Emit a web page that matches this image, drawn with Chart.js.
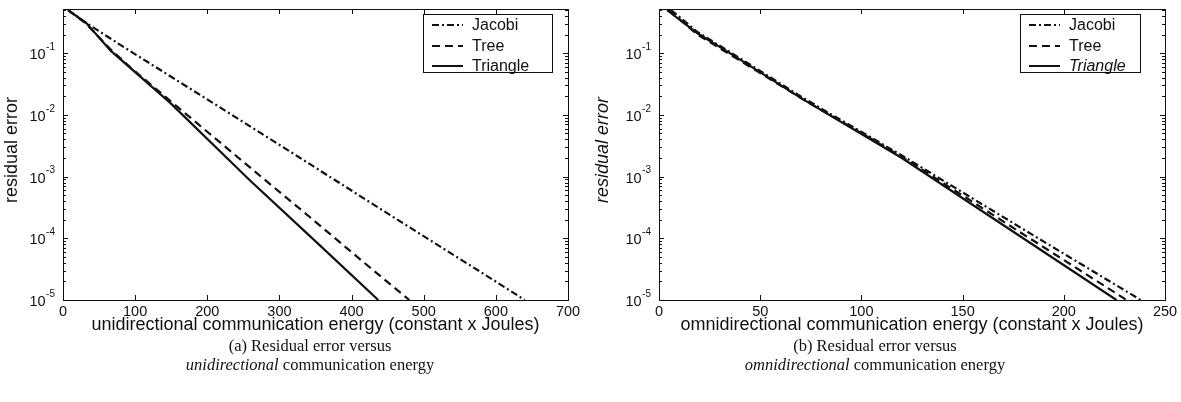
<!DOCTYPE html>
<html>
<head>
<meta charset="utf-8">
<script src="https://cdn.jsdelivr.net/npm/chart.js@4.4.1/dist/chart.umd.min.js"></script>
<style>
 body { margin: 0; background: #fff; }
 #wrap { position: relative; width: 1181px; height: 402px; background: #fff; overflow: hidden; }
 .panel { position: absolute; top: 0; height: 337px; }
 .caption { position: absolute; top: 336px; width: 500px; text-align: center;
  font-family: "Liberation Serif", "DejaVu Serif", serif; font-size: 16.5px; line-height: 19px; color: #111; }
</style>
</head>
<body>
<div id="wrap">
 <div class="panel" style="left:0;width:590px"><canvas id="uniChart" width="590" height="337"></canvas></div>
 <div class="panel" style="left:590px;width:591px"><canvas id="omniChart" width="591" height="337"></canvas></div>
 <div class="caption" style="left:60px">(a) Residual error versus<br><i>unidirectional</i> communication energy</div>
 <div class="caption" style="left:625px">(b) Residual error versus<br><i>omnidirectional</i> communication energy</div>
</div>
<script>
// (a) unidirectional energy
var uniJacobiX = [7, 32, 87, 209, 326, 458, 582, 640];
var uniJacobiY = [0.5, 0.31, 0.12, 0.0153, 0.0021, 0.00022, 0.000027, 0.00001];
var uniTreeX = [7, 32, 66, 94, 154, 267, 350, 420, 480];
var uniTreeY = [0.5, 0.3, 0.115, 0.058, 0.015, 0.00118, 0.000185, 0.000038, 0.00001];
var uniTriX = [7, 32, 66, 149, 260, 352, 437];
var uniTriY = [0.5, 0.31, 0.11, 0.0155, 0.00085, 0.000085, 0.00001];

// (b) omnidirectional energy
var omniJacobiX = [6, 19, 34, 71, 120, 180, 238];
var omniJacobiY = [0.5, 0.22, 0.11, 0.019, 0.0022, 0.00014, 0.00001];
var omniTreeX = [5, 19, 34, 71, 120, 178, 231];
var omniTreeY = [0.5, 0.2, 0.1, 0.018, 0.0021, 0.000128, 0.00001];
var omniTriX = [4, 19, 34, 71, 120, 176, 226];
var omniTriY = [0.5, 0.21, 0.105, 0.018, 0.002, 0.000122, 0.00001];

var seriesNames = ["Jacobi", "Tree", "Triangle"];
var yDecades = [1e-5, 1e-4, 1e-3, 1e-2, 1e-1];
var yExponents = ["-5", "-4", "-3", "-2", "-1"];
var yMax = 0.52;
var yTitle = "residual error";

var ink = "#111";
var fontSans = "'Liberation Sans', Arial, sans-serif";

function toPoints(xs, ys) {
 return xs.map(function (x, i) {
  return { x: x, y: ys[i] };
 });
}

var lineStyles = [
 { borderDash: [7, 3, 2, 3] },
 { borderDash: [8, 5] },
 { borderDash: [] },
];

// box, inward ticks, log labels and legend in the matlab look
var matlabAxes = {
 id: "matlabAxes",
 afterDraw: function (chart, args, opts) {
  var ctx = chart.ctx;
  var area = chart.chartArea;
  var xs = chart.scales.x;
  var ys = chart.scales.y;
  ctx.save();
  ctx.strokeStyle = ink;
  ctx.lineWidth = 1;
  ctx.strokeRect(Math.round(area.left) + 0.5, Math.round(area.top) + 0.5,
   Math.round(area.right - area.left), Math.round(area.bottom - area.top));

  ctx.beginPath();
  xs.ticks.forEach(function (t) {
   var px = Math.round(xs.getPixelForValue(t.value)) + 0.5;
   ctx.moveTo(px, area.bottom);
   ctx.lineTo(px, area.bottom - 5);
   ctx.moveTo(px, area.top);
   ctx.lineTo(px, area.top + 5);
  });
  yDecades.forEach(function (d) {
   for (var m = 1; m < 10; m++) {
    var v = d * m;
    if (v > ys.max) break;
    var py = Math.round(ys.getPixelForValue(v)) + 0.5;
    var len = m === 1 ? 5 : 3;
    ctx.moveTo(area.left, py);
    ctx.lineTo(area.left + len, py);
    ctx.moveTo(area.right, py);
    ctx.lineTo(area.right - len, py);
   }
  });
  ctx.stroke();

  // y tick labels 10^k
  ctx.fillStyle = ink;
  ctx.textBaseline = "middle";
  var rightX = area.left - 8;
  yDecades.forEach(function (d, i) {
   var py = ys.getPixelForValue(d);
   ctx.font = "10px " + fontSans;
   var ew = ctx.measureText(yExponents[i]).width;
   ctx.textAlign = "left";
   ctx.fillText(yExponents[i], rightX - ew, py - 6);
   ctx.font = "14.5px " + fontSans;
   ctx.textAlign = "right";
   ctx.fillText("10", rightX - ew - 0.5, py + 2);
  });

  // y title
  ctx.save();
  ctx.translate(12.5, 150);
  ctx.rotate(-Math.PI / 2);
  ctx.textAlign = "center";
  ctx.font = (opts.italicTitle ? "italic " : "") + "18px " + fontSans;
  ctx.fillText(yTitle, 0, 0);
  ctx.restore();

  // legend
  var b = opts.box;
  ctx.fillStyle = "#fff";
  ctx.fillRect(b.x, b.y, b.w, b.h);
  ctx.strokeStyle = ink;
  ctx.lineWidth = 1;
  ctx.strokeRect(b.x + 0.5, b.y + 0.5, b.w, b.h);
  var rows = [11, 32, 52];
  chart.data.datasets.forEach(function (ds, i) {
   var y = b.y + rows[i];
   ctx.beginPath();
   ctx.setLineDash(ds.borderDash || []);
   ctx.lineWidth = 2;
   ctx.moveTo(b.x + 9, y);
   ctx.lineTo(b.x + 40, y);
   ctx.stroke();
   ctx.setLineDash([]);
   ctx.fillStyle = ink;
   ctx.textAlign = "left";
   ctx.textBaseline = "middle";
   ctx.font = (opts.italicLast && i === 2 ? "italic " : "") + "16px " + fontSans;
   ctx.fillText(ds.label, b.x + 49, y + 1);
  });
  ctx.restore();
 },
};

function makeChart(id, series, xMax, xStep, xTitle, pad, opts) {
 var datasets = series.map(function (pts, i) {
  return {
   label: seriesNames[i],
   data: pts,
   borderColor: ink,
   borderWidth: 2.2,
   borderDash: lineStyles[i].borderDash,
   pointRadius: 0,
   tension: 0,
   fill: false,
  };
 });

 return new Chart(document.getElementById(id), {
  type: "line",
  data: { datasets: datasets },
  plugins: [matlabAxes],
  options: {
   responsive: false,
   devicePixelRatio: 1,
   animation: false,
   layout: { padding: pad },
   plugins: {
    legend: { display: false },
    tooltip: { enabled: false },
    matlabAxes: opts,
   },
   scales: {
    x: {
     type: "linear",
     min: 0,
     max: xMax,
     grid: { display: false, drawTicks: false },
     border: { display: false },
     ticks: {
      stepSize: xStep,
      padding: 3,
      color: ink,
      font: { family: fontSans, size: 14.5 },
     },
     title: {
      display: true,
      text: xTitle,
      color: ink,
      padding: { top: 0, bottom: 1 },
      font: { family: fontSans, size: 18 },
     },
     afterFit: function (scale) {
      scale.height = 37;
     },
    },
    y: {
     type: "logarithmic",
     display: false,
     min: 1e-5,
     max: yMax,
    },
   },
  },
 });
}

makeChart("uniChart",
 [toPoints(uniJacobiX, uniJacobiY), toPoints(uniTreeX, uniTreeY), toPoints(uniTriX, uniTriY)],
 700, 100, "unidirectional communication energy (constant x Joules)",
 { left: 63, right: 22, top: 9, bottom: 0 },
 { italicTitle: false, italicLast: false, box: { x: 423, y: 14, w: 129, h: 58 } });

makeChart("omniChart",
 [toPoints(omniJacobiX, omniJacobiY), toPoints(omniTreeX, omniTreeY), toPoints(omniTriX, omniTriY)],
 250, 50, "omnidirectional communication energy (constant x Joules)",
 { left: 69, right: 16, top: 9, bottom: 0 },
 { italicTitle: true, italicLast: true, box: { x: 430, y: 14, w: 120, h: 58 } });
</script>
</body>
</html>
